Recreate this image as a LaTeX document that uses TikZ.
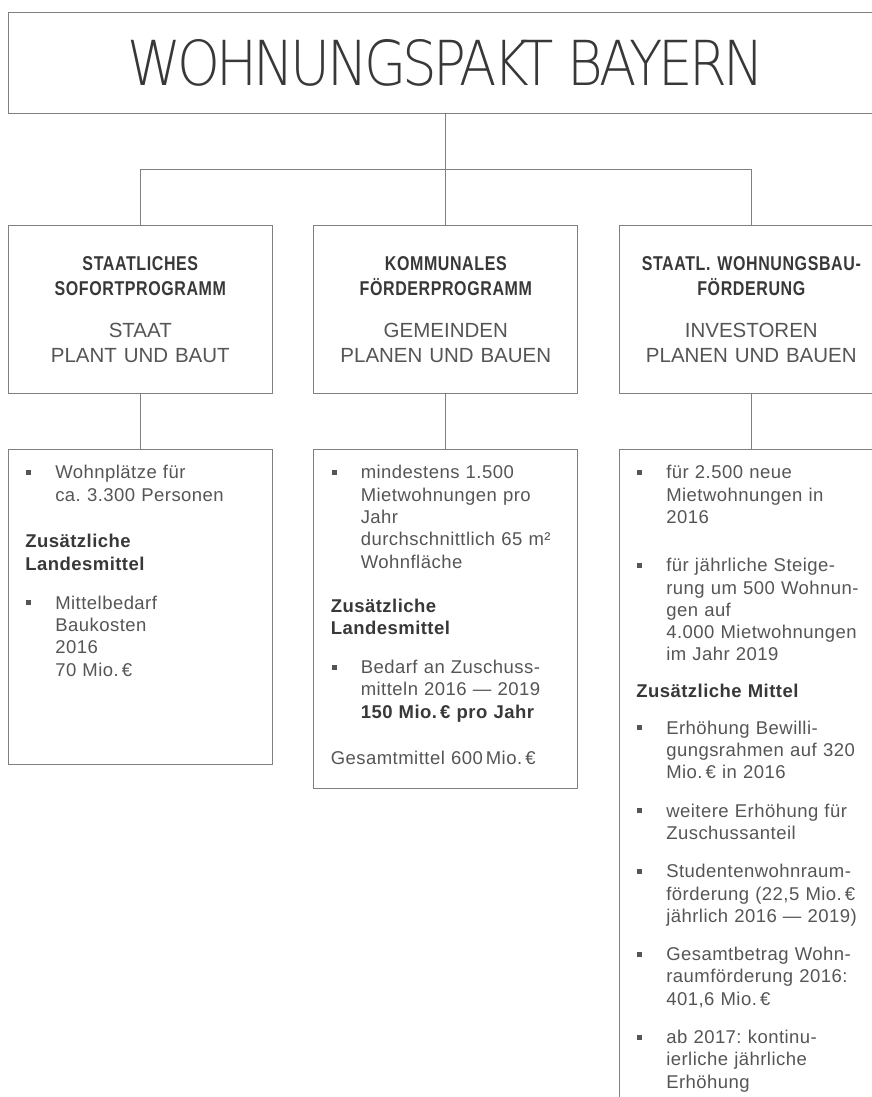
\documentclass[tikz,border=0pt]{standalone}
\usepackage{fontspec}
\setmainfont{Liberation Sans}
\newfontfamily\titlefont[FakeStretch=0.88,LetterSpace=-6]{DejaVu Sans ExtraLight}
\newfontfamily\headfont[FakeStretch=0.8,LetterSpace=3]{Liberation Sans}
\newfontfamily\bodyfont[LetterSpace=2.5]{Liberation Sans}
\usetikzlibrary{positioning}
\frenchspacing

\definecolor{linegray}{HTML}{808080}
\definecolor{textdark}{HTML}{383838}
\definecolor{textgray}{HTML}{555555}

% Aufzaehlungspunkt mit haengendem Einzug
\newcommand\erst{\noindent\hangindent=30pt\hangafter=1\makebox[30pt][l]{\hspace{1pt}\rule[4pt]{5pt}{5pt}}\ignorespaces}
\newcommand\pkt[1][16pt]{\par\vspace{#1}\erst}
\newcommand\abschn[2][20pt]{\par\vspace{#1}\noindent{\color{textdark}\bfseries #2}}

\tikzset{
  rahmen/.style={draw=linegray,line width=0.9pt},
  titlebox/.style={rahmen,minimum width=875.4pt,minimum height=101.2pt,text=textdark,
    font=\titlefont\fontsize{62}{62}\selectfont},
  progbox/.style={rahmen,text width=230pt,inner xsep=17pt,minimum height=168.7pt,align=center,
    text=textgray,font=\fontsize{20.5}{25}\selectfont},
  infobox/.style={rahmen,text width=230pt,inner xsep=17pt,inner ysep=0pt,text height=29pt,
    text depth=#1,text=textgray,font=\bodyfont\fontsize{18.5}{22.3}\selectfont},
  link/.style={draw=linegray,line width=0.9pt}
}

\begin{document}
\begin{tikzpicture}[x=1pt,y=1pt,node distance=305.5pt]
\useasboundingbox (0,0) rectangle (872,-1097);
\clip (0,0) rectangle (872,-1097);

\node[titlebox] (wp) at (445.8,-63.1) {WOHNUNGSPAKT BAYERN};

\node[progbox,below=110.6pt of wp] (kom)
  {{\headfont\bfseries\color{textdark}\fontsize{20}{25}\selectfont KOMMUNALES\\FÖRDERPROGRAMM}\\[17pt]GEMEINDEN\\PLANEN UND BAUEN};
\node[progbox] (staat) [left of=kom]
  {{\headfont\bfseries\color{textdark}\fontsize{20}{25}\selectfont STAATLICHES\\SOFORTPROGRAMM}\\[17pt]STAAT\\PLANT UND BAUT};
\node[progbox] (wbf) [right of=kom]
  {{\headfont\bfseries\color{textdark}\fontsize{20}{25}\selectfont STAATL. WOHNUNGSBAU-\\FÖRDERUNG}\\[17pt]INVESTOREN\\PLANEN UND BAUEN};

\node[infobox=285.4pt,below=55pt of staat] (staat-info) {%
\erst Wohnplätze für\newline ca. 3.300 Personen
\abschn[24.4pt]{Zusätzliche\newline Landesmittel}
\pkt[16.7pt] Mittelbedarf\newline Baukosten\newline 2016\newline 70 Mio.\,€\par};

\node[infobox=310pt,below=55pt of kom] (kom-info) {%
\erst mindestens 1.500\newline Mietwohnungen pro\newline Jahr\newline durchschnittlich 65 m²\newline Wohnfläche
\abschn[21.7pt]{Zusätzliche\newline Landesmittel}
\pkt[17pt] Bedarf an Zuschuss-\newline mitteln 2016 — 2019\newline {\color{textdark}\bfseries 150 Mio.\,€ pro Jahr}
\par\vspace{23.7pt}\noindent Gesamtmittel 600\,Mio.\,€\par};

\node[infobox=641pt,below=55pt of wbf] (wbf-info) {%
\erst für 2.500 neue\newline Mietwohnungen in\newline 2016
\pkt[26pt] für jährliche Steige-\newline rung um 500 Wohnun-\newline gen auf\newline 4.000 Mietwohnungen\newline im Jahr 2019
\abschn[14.4pt]{Zusätzliche Mittel}
\pkt[14.3pt] Erhöhung Bewilli-\newline gungsrahmen auf 320\newline Mio.\,€ in 2016
\pkt weitere Erhöhung für\newline Zuschussanteil
\pkt Studentenwohnraum-\newline förderung (22,5 Mio.\,€\newline jährlich 2016 — 2019)
\pkt Gesamtbetrag Wohn-\newline raumförderung 2016:\newline 401,6 Mio.\,€
\pkt ab 2017: kontinu-\newline ierliche jährliche\newline Erhöhung\par};

\coordinate[above=55.3pt of kom.north] (bus);

\path[link] (wp) edge (kom)
  (staat) edge (staat-info)
  (kom) edge (kom-info)
  (wbf) edge (wbf-info);
\draw[link] (staat) |- (bus) -| (wbf);
\end{tikzpicture}
\end{document}
